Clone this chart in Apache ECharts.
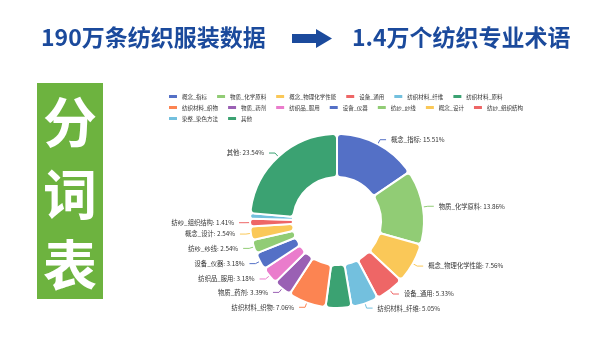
<!DOCTYPE html>
<html>
<head>
<meta charset="utf-8">
<script src="https://cdn.jsdelivr.net/npm/echarts@6/dist/echarts.min.js"></script>
<style>
  html, body { margin: 0; padding: 0; background: #fff; }
  #main { width: 600px; height: 337px; }
</style>
</head>
<body>
<div id="main"></div>
<script>
// 分词表 categories and shares (%)
var names = ['概念_指标', '物质_化学原料', '概念_物理化学性能', '设备_通用', '纺织材料_纤维', '纺织材料_原料',
  '纺织材料_织物', '物质_药剂', '纺织品_服用', '设备_仪器', '纺纱_纱线', '概念_设计', '纺纱_组织结构', '染整_染色方法', '其他'];
var shares = [15.51, 13.86, 7.56, 5.33, 5.05, 4.80, 7.06, 3.39, 3.18, 3.18, 2.54, 2.54, 1.41, 1.05, 23.54];
var hiddenLabels = ['纺织材料_原料', '染整_染色方法'];
// legend rows as laid out in the picture
var legendRows = [names.slice(0, 6), names.slice(6, 13), names.slice(13)];
var palette = ['#5470c6', '#91cc75', '#fac858', '#ee6666', '#73c0de', '#3ba272', '#fc8452', '#9a60b4', '#ea7ccc'];

var myChart = echarts.init(document.getElementById('main'));
var cjk = '"Noto Sans CJK SC", sans-serif';

var pieData = names.map(function (n, i) {
  var d = { name: n, value: shares[i] };
  if (hiddenLabels.indexOf(n) >= 0) {
    d.label = { show: false };
    d.labelLine = { show: false };
  }
  return d;
});

var legends = legendRows.map(function (row, i) {
  return {
    left: 162,
    top: 88 + i * 11,
    width: 400,
    itemWidth: 10,
    itemHeight: 5,
    itemGap: 8,
    textStyle: { fontSize: 5.5, color: '#333', padding: [0, 0, 0, -1] },
    data: row
  };
});

var option = {
  color: palette,
  textStyle: { fontFamily: cjk },
  legend: legends,
  graphic: [
    {
      type: 'text', left: 41, top: 26,
      style: { text: '190万条纺织服装数据', font: 'bold 23px ' + cjk, fill: '#1b4a9c' }
    },
    {
      type: 'polygon',
      shape: { points: [[292, 34], [316, 34], [316, 29], [332, 38.5], [316, 48], [316, 43], [292, 43]] },
      style: { fill: '#1b4a9c' }
    },
    {
      type: 'text', left: 352, top: 26,
      style: { text: '1.4万个纺织专业术语', font: 'bold 23px ' + cjk, fill: '#1b4a9c' }
    },
    {
      type: 'rect', shape: { x: 37, y: 83, width: 66, height: 216 },
      style: { fill: '#6db33f' }
    },
    {
      type: 'text', x: 70, y: 122,
      style: { text: '分', font: 'bold 54px ' + cjk, fill: '#fff', align: 'center', verticalAlign: 'middle' }
    },
    {
      type: 'text', x: 70, y: 194,
      style: { text: '词', font: 'bold 54px ' + cjk, fill: '#fff', align: 'center', verticalAlign: 'middle' }
    },
    {
      type: 'text', x: 70, y: 265,
      style: { text: '表', font: 'bold 54px ' + cjk, fill: '#fff', align: 'center', verticalAlign: 'middle' }
    }
  ],
  series: [{
    type: 'pie',
    center: [337, 221],
    radius: [44, 87],
    startAngle: 90,
    avoidLabelOverlap: true,
    itemStyle: { borderRadius: 4, borderColor: '#fff', borderWidth: 2 },
    label: {
      formatter: '{b}: {d}%',
      fontSize: 6.3,
      color: '#333'
    },
    labelLine: { length: 5, length2: 6, lineStyle: { width: 1 } },
    data: pieData
  }]
};
myChart.setOption(option);

window.addEventListener('resize', function () {
  myChart.resize();
});
</script>
</body>
</html>
